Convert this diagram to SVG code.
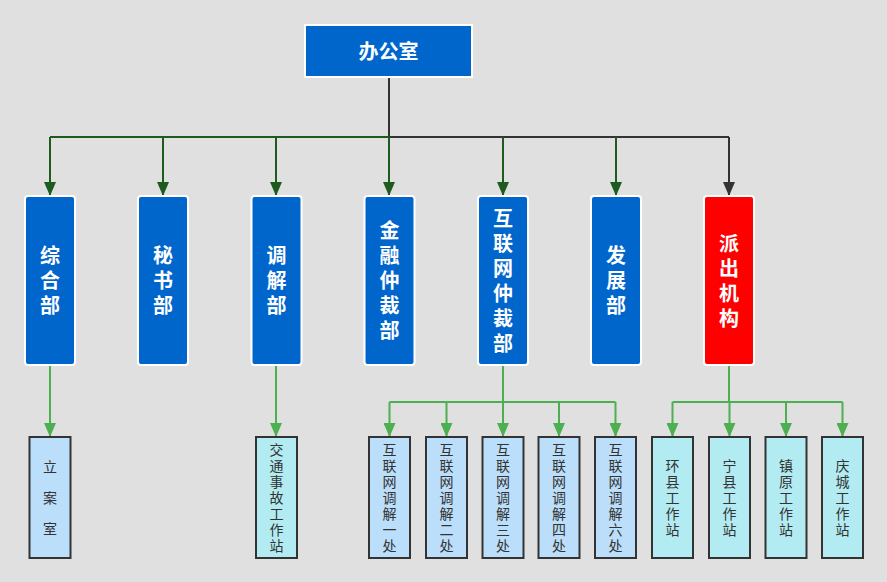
<svg xmlns="http://www.w3.org/2000/svg" width="887" height="582" viewBox="0 0 887 582">
<defs>
<marker id="ad" markerUnits="userSpaceOnUse" markerWidth="12" markerHeight="14" refX="6" refY="14" orient="0" viewBox="0 0 12 14"><path d="M0,0 L12,0 L6,14 Z" fill="#1E5B1E"/></marker>
<marker id="ak" markerUnits="userSpaceOnUse" markerWidth="12" markerHeight="14" refX="6" refY="14" orient="0" viewBox="0 0 12 14"><path d="M0,0 L12,0 L6,14 Z" fill="#333"/></marker>
<marker id="ag" markerUnits="userSpaceOnUse" markerWidth="12" markerHeight="14" refX="6" refY="14" orient="0" viewBox="0 0 12 14"><path d="M0,0 L12,0 L6,14 Z" fill="#4CAF50"/></marker>
</defs>
<style>
.top{fill:#0066CC;stroke:#fff;stroke-width:2}
.b{fill:#0066CC;stroke:#fff;stroke-width:2}
.r{fill:#FF0000;stroke:#fff;stroke-width:2}
.lb{fill:#BBDEFA;stroke:#333;stroke-width:2}
.lc{fill:#B2EBF2;stroke:#333;stroke-width:2}
.t0{font-family:"Noto Sans CJK SC",sans-serif;font-weight:bold;font-size:20px;fill:#fff;text-anchor:middle}
.t1{font-family:"Noto Sans CJK SC",sans-serif;font-weight:bold;font-size:20px;fill:#fff;text-anchor:middle;writing-mode:vertical-rl;letter-spacing:5px}
.t3{font-family:"Noto Sans CJK SC",sans-serif;font-size:14px;fill:#333;text-anchor:middle;writing-mode:vertical-rl;letter-spacing:2px}
.t3w{font-family:"Noto Sans CJK SC",sans-serif;font-size:14px;fill:#333;text-anchor:middle;writing-mode:vertical-rl;letter-spacing:17px}
.cd{stroke:#1E5B1E;stroke-width:2;fill:none}
.ck{stroke:#333;stroke-width:2;fill:none}
.cg{stroke:#4CAF50;stroke-width:2;fill:none}
</style>
<rect width="887" height="582" fill="#E0E0E0"/>
<g id="connectors">
<path class="ck" d="M389,78 V137"/>
<path class="cd" d="M389,137 H50"/>
<path class="ck" d="M389,137 H729"/>
<path class="cd" d="M50,137 V196" marker-end="url(#ad)"/>
<path class="cd" d="M163,137 V196" marker-end="url(#ad)"/>
<path class="cd" d="M276,137 V196" marker-end="url(#ad)"/>
<path class="cd" d="M389,137 V196" marker-end="url(#ad)"/>
<path class="cd" d="M503,137 V196" marker-end="url(#ad)"/>
<path class="cd" d="M616,137 V196" marker-end="url(#ad)"/>
<path class="ck" d="M729,137 V196" marker-end="url(#ak)"/>
<path class="cg" d="M50,366 V437" marker-end="url(#ag)"/>
<path class="cg" d="M276,366 V437" marker-end="url(#ag)"/>
<path class="cg" d="M503,366 V402 M389.5,402 H615.5"/>
<path class="cg" d="M389.5,402 V437" marker-end="url(#ag)"/>
<path class="cg" d="M446.5,402 V437" marker-end="url(#ag)"/>
<path class="cg" d="M503,402 V437" marker-end="url(#ag)"/>
<path class="cg" d="M559,402 V437" marker-end="url(#ag)"/>
<path class="cg" d="M615.5,402 V437" marker-end="url(#ag)"/>
<path class="cg" d="M729,366 V402 M672.5,402 H842.5"/>
<path class="cg" d="M672.5,402 V437" marker-end="url(#ag)"/>
<path class="cg" d="M729.5,402 V437" marker-end="url(#ag)"/>
<path class="cg" d="M786,402 V437" marker-end="url(#ag)"/>
<path class="cg" d="M842.5,402 V437" marker-end="url(#ag)"/>
</g>
<g id="n-office"><rect class="top" x="305" y="25" width="167" height="52"/><text class="t0" x="388.5" y="59">办公室</text></g>
<g id="n-zonghe"><rect class="b" x="25" y="196" width="50" height="169" rx="3"/><text class="t1" x="50" y="283">综合部</text></g>
<g id="n-mishu"><rect class="b" x="138" y="196" width="50" height="169" rx="3"/><text class="t1" x="163" y="283">秘书部</text></g>
<g id="n-tiaojie"><rect class="b" x="251.5" y="196" width="50" height="169" rx="3"/><text class="t1" x="276.5" y="283">调解部</text></g>
<g id="n-jinrong"><rect class="b" x="364.5" y="196" width="50" height="169" rx="3"/><text class="t1" x="389.5" y="283">金融仲裁部</text></g>
<g id="n-hulianwang"><rect class="b" x="478" y="196" width="50" height="169" rx="3"/><text class="t1" x="503" y="283">互联网仲裁部</text></g>
<g id="n-fazhan"><rect class="b" x="591" y="196" width="50" height="169" rx="3"/><text class="t1" x="616" y="283">发展部</text></g>
<g id="n-paichu"><rect class="r" x="704" y="196" width="50" height="169" rx="3"/><text class="t1" x="729" y="283">派出机构</text></g>
<g id="n-lian"><rect class="lb" x="29.5" y="437" width="41" height="121"/><text class="t3w" x="50" y="506">立案室</text></g>
<g id="n-jiaotong"><rect class="lc" x="256" y="437" width="41" height="121"/><text class="t3" x="276.5" y="498.5">交通事故工作站</text></g>
<g id="n-hl1"><rect class="lb" x="369" y="437" width="41" height="121"/><text class="t3" x="389.5" y="498.5">互联网调解一处</text></g>
<g id="n-hl2"><rect class="lb" x="426" y="437" width="41" height="121"/><text class="t3" x="446.5" y="498.5">互联网调解二处</text></g>
<g id="n-hl3"><rect class="lb" x="482.5" y="437" width="41" height="121"/><text class="t3" x="503" y="498.5">互联网调解三处</text></g>
<g id="n-hl4"><rect class="lb" x="538.5" y="437" width="41" height="121"/><text class="t3" x="559" y="498.5">互联网调解四处</text></g>
<g id="n-hl6"><rect class="lb" x="595" y="437" width="41" height="121"/><text class="t3" x="615.5" y="498.5">互联网调解六处</text></g>
<g id="n-huanxian"><rect class="lc" x="652" y="437" width="41" height="121"/><text class="t3" x="672.5" y="498.5">环县工作站</text></g>
<g id="n-ningxian"><rect class="lc" x="709" y="437" width="41" height="121"/><text class="t3" x="729.5" y="498.5">宁县工作站</text></g>
<g id="n-zhenyuan"><rect class="lc" x="765.5" y="437" width="41" height="121"/><text class="t3" x="786" y="498.5">镇原工作站</text></g>
<g id="n-qingcheng"><rect class="lc" x="822" y="437" width="41" height="121"/><text class="t3" x="842.5" y="498.5">庆城工作站</text></g>
</svg>
